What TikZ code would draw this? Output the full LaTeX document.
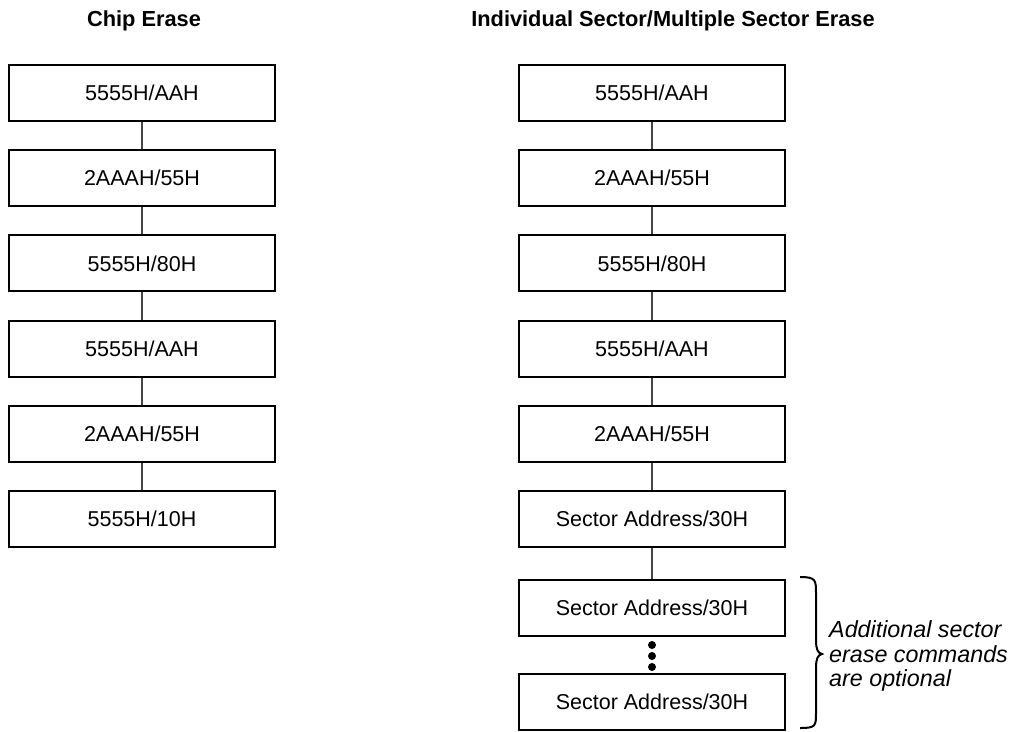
\documentclass[tikz,border=0pt]{standalone}
\usepackage{fontspec}
\setmainfont{Liberation Sans}
\usetikzlibrary{positioning}
\definecolor{linkcol}{RGB}{70,70,70}
\tikzset{
  cmd/.style={draw, line width=2pt, minimum width=266pt, minimum height=56pt, inner sep=0pt, font=\fontsize{21.5}{26}\selectfont},
  link/.style={draw=linkcol, line width=1.2pt},
  ttl/.style={font=\fontsize{21.8}{26}\selectfont\bfseries},
  note/.style={font=\fontsize{23.3}{24.5}\selectfont\itshape, align=left, inner sep=0pt},
  dot/.style={circle, fill, inner sep=0pt, minimum size=8pt},
  brace/.style={line width=2pt},
}
\begin{document}
\begin{tikzpicture}[x=1pt,y=-1pt]
  \useasboundingbox (0,0) rectangle (1011,731);
  \node[ttl] (tc) at (144,21) {Chip Erase};
  \node[ttl] (ts) at (673,21) {Individual Sector/Multiple Sector Erase};
  % chip erase sequence
  \foreach \t [count=\i] in {{5555H/AAH},{2AAAH/55H},{5555H/80H},{5555H/AAH},{2AAAH/55H},{5555H/10H}}
    \node[cmd] (c\i) at (142,{93+85.2*(\i-1)}) {\t};
  \foreach \i/\j in {1/2,2/3,3/4,4/5,5/6} \draw[link] (c\i) -- (c\j);
  % sector erase sequence
  \foreach \t [count=\i] in {{5555H/AAH},{2AAAH/55H},{5555H/80H},{5555H/AAH},{2AAAH/55H},{Sector Address/30H}}
    \node[cmd] (s\i) at (652,{93+85.2*(\i-1)}) {\t};
  \node[cmd] (s7) at (652,608) {Sector Address/30H};
  \node[cmd] (s8) at (652,702) {Sector Address/30H};
  \foreach \i/\j in {1/2,2/3,3/4,4/5,5/6,6/7} \draw[link] (s\i) -- (s\j);
  \foreach \k/\y in {1/645,2/656,3/667} \node[dot] (d\k) at (652,\y) {};
  % optional part
  \draw[brace] (800,577) .. controls (816,577) and (816,580) .. (816,594) -- (816,640)
    .. controls (816,650) and (818,653) .. (822,654) .. controls (818,655) and (816,658) .. (816,668)
    -- (816,712) .. controls (816,726) and (816,728) .. (800,728);
  \node[note, anchor=west] (opt) at (829,656) {Additional sector\\erase commands\\are optional};
\end{tikzpicture}
\end{document}
